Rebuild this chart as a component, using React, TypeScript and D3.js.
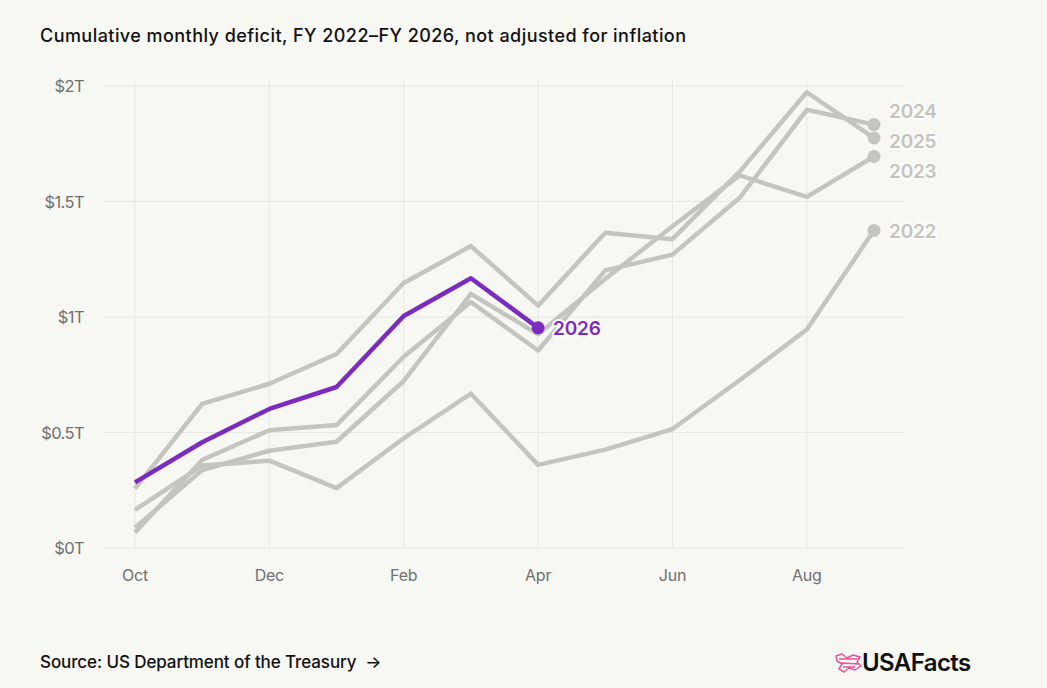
import { useRef, useEffect } from "react";
import * as d3 from "d3";

// cumulative deficit, trillions of dollars, Oct..Sep
const months = ["Oct", "Nov", "Dec", "Jan", "Feb", "Mar", "Apr", "May", "Jun", "Jul", "Aug", "Sep"];
const monthTicks = ["Oct", "Dec", "Feb", "Apr", "Jun", "Aug"];
const yTicks = [0, 0.5, 1, 1.5, 2];
const yTickLabels = ["$0T", "$0.5T", "$1T", "$1.5T", "$2T"];

const fy2022 = [0.165, 0.357, 0.378, 0.259, 0.475, 0.668, 0.36, 0.426, 0.515, 0.726, 0.946, 1.375];
const fy2023 = [0.088, 0.337, 0.421, 0.46, 0.723, 1.1, 0.925, 1.165, 1.393, 1.613, 1.52, 1.695];
const fy2024 = [0.067, 0.381, 0.51, 0.532, 0.828, 1.065, 0.855, 1.202, 1.27, 1.516, 1.897, 1.833];
const fy2025 = [0.257, 0.624, 0.711, 0.84, 1.147, 1.307, 1.049, 1.365, 1.337, 1.629, 1.973, 1.775];
const fy2026 = [0.284, 0.458, 0.602, 0.697, 1.004, 1.168, 0.953];

const pastYears = [
  { name: "2022", values: fy2022 },
  { name: "2023", values: fy2023 },
  { name: "2024", values: fy2024 },
  { name: "2025", values: fy2025 },
];

const W = 1047;
const H = 688;
const bg = "#f7f7f4";
const grey = "#c4c4c0";
const purple = "#7b2cbf";
const font = "Inter, 'Noto Sans', sans-serif";

export default function App() {
  const ref = useRef<SVGSVGElement>(null);

  useEffect(() => {
    const svg = d3.select(ref.current);
    svg.selectAll("*").remove();

    const x = d3.scalePoint<string>().domain(months).range([135, 874]);
    const y = d3.scaleLinear().domain([0, 2]).range([548, 86]);

    svg.append("rect").attr("width", W).attr("height", H).attr("fill", bg);

    // title
    svg
      .append("text")
      .attr("x", 40)
      .attr("y", 42)
      .attr("font-family", font)
      .attr("font-size", 18)
      .attr("font-weight", 500)
      .attr("letter-spacing", 0.45)
      .attr("fill", "#111")
      .text("Cumulative monthly deficit, FY 2022–FY 2026, not adjusted for inflation");

    // grid
    const grid = svg.append("g");
    grid
      .selectAll("line.v")
      .data(monthTicks)
      .join("line")
      .attr("x1", (d) => x(d)!)
      .attr("x2", (d) => x(d)!)
      .attr("y1", 80)
      .attr("y2", 548)
      .attr("stroke", "#e6e6e2")
      .attr("stroke-width", 1);
    grid
      .selectAll("line.h")
      .data(yTicks)
      .join("line")
      .attr("x1", 104)
      .attr("x2", 904)
      .attr("y1", (d) => y(d))
      .attr("y2", (d) => y(d))
      .attr("stroke", "#e6e6e2")
      .attr("stroke-width", 1);

    // axes labels
    svg
      .append("g")
      .selectAll("text")
      .data(yTicks)
      .join("text")
      .attr("x", 84)
      .attr("y", (d) => y(d) + 6)
      .attr("text-anchor", "end")
      .attr("font-family", font)
      .attr("font-size", 16.5)
      .attr("letter-spacing", -0.6)
      .attr("fill", "#707070")
      .text((d, i) => yTickLabels[i]);

    svg
      .append("g")
      .selectAll("text")
      .data(monthTicks)
      .join("text")
      .attr("x", (d) => x(d)!)
      .attr("y", 581)
      .attr("text-anchor", "middle")
      .attr("font-family", font)
      .attr("font-size", 16)
      .attr("letter-spacing", -0.2)
      .attr("fill", "#707070")
      .text((d) => d);

    const line = d3
      .line<number>()
      .x((d, i) => x(months[i])!)
      .y((d) => y(d));

    // past years
    const past = svg.append("g");
    past
      .selectAll("path")
      .data(pastYears)
      .join("path")
      .attr("d", (d) => line(d.values))
      .attr("fill", "none")
      .attr("stroke", grey)
      .attr("stroke-width", 4.5)
      .attr("stroke-linejoin", "round");

    past
      .selectAll("circle")
      .data(pastYears)
      .join("circle")
      .attr("cx", x("Sep")!)
      .attr("cy", (d) => y(d.values[11]))
      .attr("r", 6.5)
      .attr("fill", grey);

    // label positions with simple spreading
    const labels = pastYears
      .map((d) => ({ name: d.name, y: y(d.values[11]) }))
      .sort((a, b) => a.y - b.y);
    const gap = 30;
    const clusters: { items: typeof labels }[] = [];
    labels.forEach((l) => {
      const last = clusters[clusters.length - 1];
      if (last && l.y - last.items[last.items.length - 1].y < gap) last.items.push(l);
      else clusters.push({ items: [l] });
    });
    const placed: { name: string; y: number }[] = [];
    clusters.forEach((c) => {
      const mean = d3.mean(c.items, (d) => d.y)!;
      const start = mean - ((c.items.length - 1) * gap) / 2;
      c.items.forEach((it, i) => placed.push({ name: it.name, y: start + i * gap }));
    });

    svg
      .append("g")
      .selectAll("text")
      .data(placed)
      .join("text")
      .attr("x", 889)
      .attr("y", (d) => d.y + 8)
      .attr("font-family", font)
      .attr("font-size", 19)
      .attr("font-weight", 600)
      .attr("letter-spacing", -0.2)
      .attr("fill", grey)
      .attr("stroke", "#fafaf8")
      .attr("stroke-width", 4)
      .attr("paint-order", "stroke")
      .text((d) => d.name);

    // current year
    svg
      .append("path")
      .attr("d", line(fy2026))
      .attr("fill", "none")
      .attr("stroke", purple)
      .attr("stroke-width", 4.5)
      .attr("stroke-linejoin", "round");

    const last = fy2026.length - 1;
    svg
      .append("circle")
      .attr("cx", x(months[last])!)
      .attr("cy", y(fy2026[last]))
      .attr("r", 6.5)
      .attr("fill", purple);
    svg
      .append("text")
      .attr("x", x(months[last])! + 15)
      .attr("y", y(fy2026[last]) + 7.5)
      .attr("font-family", font)
      .attr("font-size", 19)
      .attr("font-weight", 600)
      .attr("letter-spacing", -0.2)
      .attr("fill", purple)
      .attr("stroke", "#fafaf8")
      .attr("stroke-width", 4)
      .attr("paint-order", "stroke")
      .text("2026");

    // footer
    svg
      .append("text")
      .attr("x", 40)
      .attr("y", 668)
      .attr("font-family", font)
      .attr("font-size", 17)
      .attr("font-weight", 500)
      .attr("letter-spacing", -0.1)
      .attr("fill", "#111")
      .text("Source: US Department of the Treasury \u00a0→");

    const logo = svg.append("g").attr("transform", "translate(835,653)");
    logo
      .append("path")
      .attr(
        "d",
        "M1,3 L7,1 L12,5 L18,2 L25,4 L22,9 L26,13 L20,17 L14,15 L9,19 L4,16 L7,11 L2,8 Z M4,6 L22,6 M6,10 L24,11 M8,14 L20,14"
      )
      .attr("fill", "none")
      .attr("stroke", "#e8559b")
      .attr("stroke-width", 1.5)
      .attr("stroke-linejoin", "round");
    svg
      .append("text")
      .attr("x", 862)
      .attr("y", 671)
      .attr("font-family", font)
      .attr("font-size", 24)
      .attr("font-weight", 600)
      .attr("letter-spacing", -0.6)
      .attr("fill", "#111")
      .text("USAFacts");
  }, []);

  return (
    <svg
      ref={ref}
      width={W}
      height={H}
      style={{ position: "absolute", left: 0, top: 0, display: "block" }}
    />
  );
}
